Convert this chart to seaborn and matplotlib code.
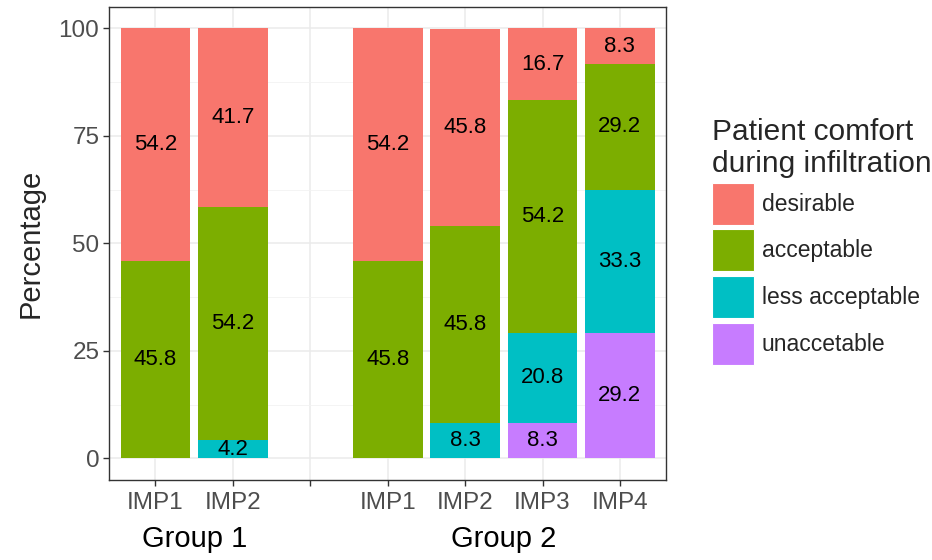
import numpy as np
import pandas as pd
import matplotlib
matplotlib.use("Agg")
import matplotlib.pyplot as plt
import matplotlib.transforms as mtransforms
from matplotlib.patches import Patch
import seaborn as sns

# 데이터
bars = ["G1 IMP1", "G1 IMP2", "G2 IMP1", "G2 IMP2", "G2 IMP3", "G2 IMP4"]
order = ["G1 IMP1", "G1 IMP2", "gap", "G2 IMP1", "G2 IMP2", "G2 IMP3", "G2 IMP4"]
tick_labels = ["IMP1", "IMP2", "", "IMP1", "IMP2", "IMP3", "IMP4"]
groups = ["Group 1", "Group 2"]
group_members = [["G1 IMP1", "G1 IMP2"], ["G2 IMP1", "G2 IMP2", "G2 IMP3", "G2 IMP4"]]

levels = ["desirable", "acceptable", "less acceptable", "unaccetable"]
desirable = [54.2, 41.7, 54.2, 45.8, 16.7, 8.3]
acceptable = [45.8, 54.2, 45.8, 45.8, 54.2, 29.2]
less_acceptable = [0, 4.2, 0, 8.3, 20.8, 33.3]
unacceptable = [0, 0, 0, 0, 8.3, 29.2]
colors = ["#F8766D", "#7CAE00", "#00BFC4", "#C77CFF"]

sns.set_style("white")
plt.rcParams['font.family'] = ['Liberation Sans', 'DejaVu Sans']

df = pd.DataFrame({"bar": bars, "desirable": desirable, "acceptable": acceptable,
                   "less acceptable": less_acceptable, "unaccetable": unacceptable})

# 아래에서부터 누적 (unacceptable -> desirable)
stack_order = ["unaccetable", "less acceptable", "acceptable", "desirable"]
cum = df[stack_order].cumsum(axis=1)

fig = plt.figure(figsize=(9.32, 5.6), dpi=100)
ax = fig.add_axes([0.117, 0.143, 0.598, 0.845])

# 겹쳐 그리기: 가장 큰 누적값부터
for lvl in reversed(stack_order):
    sns.barplot(x=df["bar"], y=cum[lvl], order=order, color=colors[levels.index(lvl)],
                saturation=1, width=0.9, ax=ax, linewidth=0, err_kws={"linewidth": 0})

# 세그먼트 라벨
for i, b in enumerate(bars):
    xpos = order.index(b)
    base = 0
    for lvl in stack_order:
        v = df.loc[i, lvl]
        if v > 0:
            ax.text(xpos, base + v / 2, f"{v:.1f}", ha="center", va="center",
                    fontsize=16, color="black")
        base += v

ax.set_xlim(-0.6, len(order) - 0.4)
ax.set_ylim(-5, 105)
ax.set_yticks([0, 25, 50, 75, 100])
ax.set_yticks([12.5, 37.5, 62.5, 87.5], minor=True)
ax.set_xticks(range(len(order)))
ax.set_xticklabels(tick_labels)
ax.set_xlabel("")
ax.set_ylabel("Percentage", fontsize=21, labelpad=10)

ax.set_axisbelow(True)
ax.grid(True, which="major", color="#EBEBEB", linewidth=1.1)
ax.grid(True, which="minor", axis="y", color="#F2F2F2", linewidth=0.6)
ax.tick_params(axis="both", which="major", labelsize=17.5, labelcolor="#4D4D4D",
               color="#333333", length=4, width=1, left=True, bottom=True)
ax.tick_params(axis="x", which="major", pad=5)
ax.tick_params(axis="y", which="major", pad=3)
ax.tick_params(axis="both", which="minor", length=0)
for s in ax.spines.values():
    s.set_color("#333333")
    s.set_linewidth(1)

# 그룹 라벨
trans = mtransforms.blended_transform_factory(ax.transData, ax.transAxes)
for g, members in zip(groups, group_members):
    xs = [order.index(m) for m in members]
    ax.text(np.mean(xs), -0.125, g, transform=trans, ha="center", va="center",
            fontsize=21, color="black")

handles = [Patch(facecolor=c, edgecolor="white", linewidth=0.8) for c in colors]
fig.legend(handles, levels, title="Patient comfort\nduring infiltration",
           loc="upper left", bbox_to_anchor=(0.7635, 0.79), frameon=False,
           fontsize=16.5, title_fontsize=21.5, handlelength=1.85, handleheight=2.45,
           labelspacing=0.2, handletextpad=0.35, alignment="left", borderaxespad=0,
           borderpad=0)

plt.savefig("out.png", dpi=100, facecolor="white")
